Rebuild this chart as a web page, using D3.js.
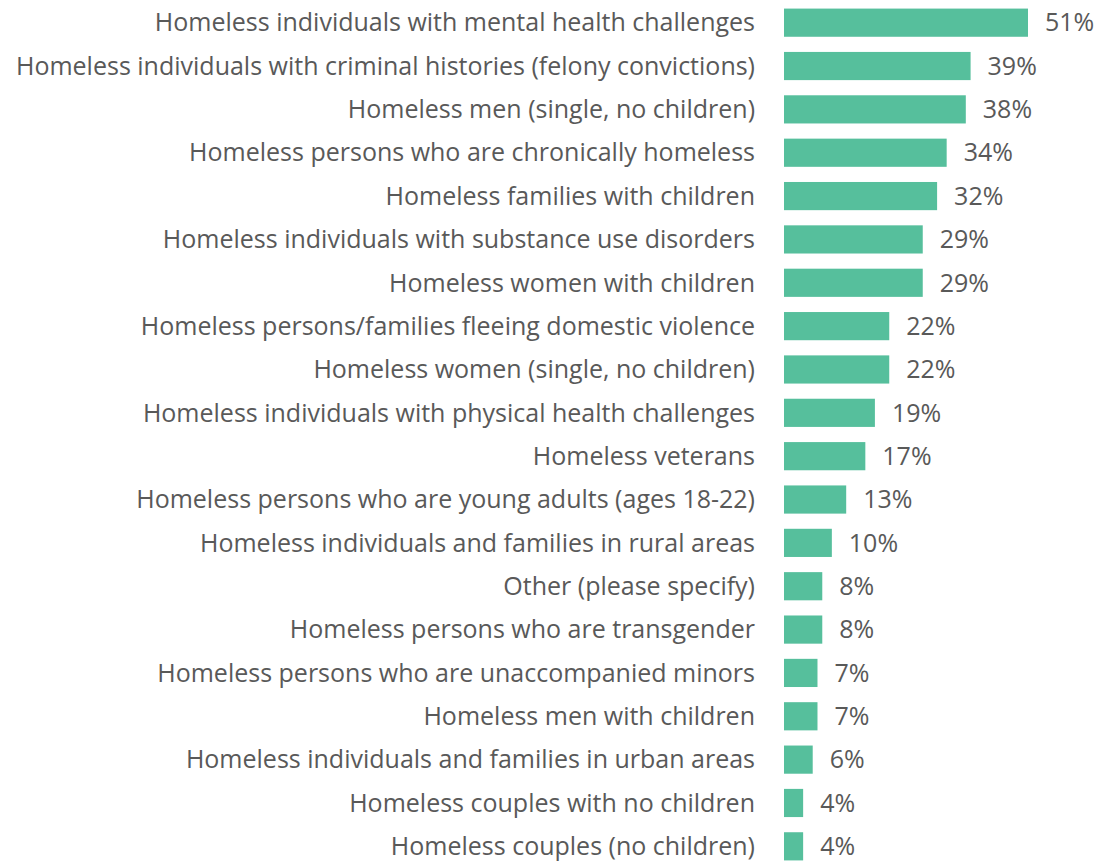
<!DOCTYPE html>
<html>
<head>
<meta charset="utf-8">
<script src="https://cdn.jsdelivr.net/npm/d3@7"></script>
<style>
  body { margin: 0; background: #fff; }
  text { font-family: "Open Sans", "Noto Sans", sans-serif; fill: #595959; }
</style>
</head>
<body>
<div id="chart"></div>
<script>
// categories, top to bottom
const categories = [
  "Homeless individuals with mental health challenges",
  "Homeless individuals with criminal histories (felony convictions)",
  "Homeless men (single, no children)",
  "Homeless persons who are chronically homeless",
  "Homeless families with children",
  "Homeless individuals with substance use disorders",
  "Homeless women with children",
  "Homeless persons/families fleeing domestic violence",
  "Homeless women (single, no children)",
  "Homeless individuals with physical health challenges",
  "Homeless veterans",
  "Homeless persons who are young adults (ages 18-22)",
  "Homeless individuals and families in rural areas",
  "Other (please specify)",
  "Homeless persons who are transgender",
  "Homeless persons who are unaccompanied minors",
  "Homeless men with children",
  "Homeless individuals and families in urban areas",
  "Homeless couples with no children",
  "Homeless couples (no children)"
];
const values = [51, 39, 38, 34, 32, 29, 29, 22, 22, 19, 17, 13, 10, 8, 8, 7, 7, 6, 4, 4];

const W = 1100, H = 865;
const fontSize = "25px";

const svg = d3.select("#chart").append("svg")
  .attr("width", W).attr("height", H);

// bars start right of the labels, 51% reaches ~1028px
const x = d3.scaleLinear().domain([0, 51]).range([784, 1028]);
const y = d3.scaleBand().domain(categories)
  .range([1, 868]).paddingInner(0.35).paddingOuter(0.175);

const rows = svg.selectAll("g.row").data(categories).enter()
  .append("g").attr("class", "row");

rows.append("rect")
  .attr("x", x(0))
  .attr("y", d => y(d))
  .attr("width", (d, i) => x(values[i]) - x(0))
  .attr("height", y.bandwidth())
  .attr("fill", "#56bf9c");

rows.append("text")
  .attr("x", 755)
  .attr("y", d => y(d) + y.bandwidth() / 2)
  .attr("dy", "0.35em")
  .attr("text-anchor", "end")
  .style("font-size", fontSize)
  .text(d => d);

rows.append("text")
  .attr("x", (d, i) => x(values[i]) + 17)
  .attr("y", d => y(d) + y.bandwidth() / 2)
  .attr("dy", "0.35em")
  .style("font-size", fontSize)
  .text((d, i) => values[i] + "%");
</script>
</body>
</html>
